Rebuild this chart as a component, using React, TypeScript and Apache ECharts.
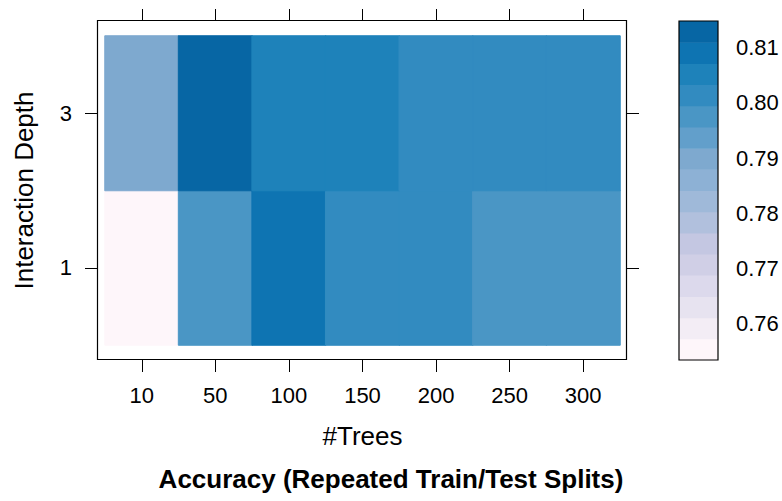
import React, { useEffect, useRef } from "react";
import * as echarts from "echarts";

const trees = ["10", "50", "100", "150", "200", "250", "300"];
const depths = ["1", "3"];
// accuracy for interaction depth 1 and 3, per #trees
const accDepth1 = [0.7533, 0.7974, 0.8092, 0.8012, 0.8009, 0.7971, 0.7976];
const accDepth3 = [0.7899, 0.8149, 0.8051, 0.8048, 0.8013, 0.8011, 0.8015];
const keyTicks = [0.76, 0.77, 0.78, 0.79, 0.8, 0.81];
// 16 colour levels, lowest to highest
const levelColors = [
  "#FEF6FA", "#F3EDF5", "#E7E3F0", "#DCD9EC", "#D0CFE6", "#C4C7E2",
  "#B1C0DD", "#9FB9D9", "#8DB1D5", "#7EA9CF", "#629FCB", "#4A96C5",
  "#328BC0", "#1E82BA", "#0E74B2", "#0766A4",
];

const FONT = "'Liberation Sans', Arial, Helvetica, sans-serif";

export default function App() {
  const ref = useRef<HTMLDivElement>(null);
  useEffect(() => {
    if (!ref.current) return;
    const chart = echarts.init(ref.current, undefined, { renderer: "svg" });
    const all = [...accDepth1, ...accDepth3];
    const zMin = Math.min(...all);
    const zMax = Math.max(...all);
    const n = levelColors.length;
    const step = (zMax - zMin) / n;
    const edges = levelColors.map((_, i) => zMin + i * step).concat([zMax]);
    const pieces = levelColors.map((c, i) => {
      const p: any = { color: c };
      if (i > 0) p.gt = edges[i];
      if (i < n - 1) p.lte = edges[i + 1];
      return p;
    });
    const levelOf = (v: number) => {
      for (let i = 0; i < n - 1; i++) if (v <= edges[i + 1]) return i;
      return n - 1;
    };
    const heat: any[] = [];
    const pushRow = (row: number[], y: number) =>
      row.forEach((v, i) =>
        heat.push({ value: [i, y, v], itemStyle: { borderColor: levelColors[levelOf(v)], borderWidth: 1 } })
      );
    pushRow(accDepth1, 0);
    pushRow(accDepth3, 1);
    const bands = levelColors.map((_, i) => [edges[i], edges[i + 1], 0.5]);

    const tickStyle = { show: true, length: 12, inside: false, lineStyle: { color: "#000", width: 1 } };

    chart.setOption({
      animation: false,
      textStyle: { fontFamily: FONT },
      title: {
        text: "Accuracy (Repeated Train/Test Splits)",
        left: "center",
        top: 461,
        textStyle: { fontSize: 26, fontWeight: "bold", color: "#000", fontFamily: FONT },
      },
      grid: [
        { left: 105, top: 36, width: 515, height: 309 },
        { left: 679, top: 21, width: 39, height: 339 },
      ],
      xAxis: [
        {
          type: "category", data: trees, gridIndex: 0, position: "bottom", offset: 15,
          axisLine: { show: false }, axisTick: { ...tickStyle, alignWithLabel: true },
          axisLabel: { fontSize: 22, color: "#000", margin: 24, fontFamily: FONT },
          splitLine: { show: false },
          name: "#Trees", nameLocation: "middle", nameGap: 63,
          nameTextStyle: { fontSize: 26, color: "#000", fontFamily: FONT },
        },
        {
          type: "category", data: trees, gridIndex: 0, position: "top", offset: 15,
          axisLine: { show: false }, axisTick: { ...tickStyle, alignWithLabel: true },
          axisLabel: { show: false }, splitLine: { show: false },
        },
        { type: "value", gridIndex: 1, min: 0, max: 1, show: false },
      ],
      yAxis: [
        {
          type: "category", data: depths, gridIndex: 0, position: "left", offset: 8,
          axisLine: { show: false }, axisTick: { ...tickStyle, alignWithLabel: true },
          axisLabel: { fontSize: 22, color: "#000", margin: 25, fontFamily: FONT },
          splitLine: { show: false },
          name: "Interaction Depth", nameLocation: "middle", nameGap: 60, nameRotate: 90,
          nameTextStyle: { fontSize: 26, color: "#000", fontFamily: FONT },
        },
        {
          type: "category", data: depths, gridIndex: 0, position: "right", offset: 7,
          axisLine: { show: false }, axisTick: { ...tickStyle, alignWithLabel: true },
          axisLabel: { show: false }, splitLine: { show: false },
        },
        {
          type: "value", gridIndex: 1, min: zMin, max: zMax, position: "right",
          axisLine: { show: false }, splitLine: { show: false },
          axisTick: { show: true, length: 7, inside: false, customValues: keyTicks, lineStyle: { color: "#000" } },
          axisLabel: {
            fontSize: 22, color: "#000", margin: 18, customValues: keyTicks, fontFamily: FONT,
            formatter: (v: number) => v.toFixed(2),
          },
        },
      ],
      visualMap: {
        type: "piecewise", show: false, seriesIndex: 0, dimension: 2, pieces,
      },
      series: [
        {
          type: "heatmap", xAxisIndex: 0, yAxisIndex: 0, data: heat,
          emphasis: { disabled: true },
        },
        {
          type: "custom", xAxisIndex: 2, yAxisIndex: 2, data: bands,
          encode: { x: 2, y: [0, 1] },
          renderItem: (params: any, api: any) => {
            const lo = api.value(0);
            const hi = api.value(1);
            const p1 = api.coord([0, hi]);
            const p2 = api.coord([1, lo]);
            return {
              type: "rect",
              shape: { x: p1[0], y: p1[1], width: p2[0] - p1[0], height: p2[1] - p1[1] + 0.5 },
              style: { fill: levelColors[params.dataIndex] },
            };
          },
        },
      ],
      graphic: [
        { type: "rect", z: 100, shape: { x: 97.5, y: 20.5, width: 529, height: 339 }, style: { fill: "none", stroke: "#000", lineWidth: 1.2 } },
        { type: "rect", z: 100, shape: { x: 679, y: 21, width: 39, height: 339 }, style: { fill: "none", stroke: "#000", lineWidth: 1.2 } },
      ],
    });
    return () => chart.dispose();
  }, []);
  return (
    <div
      ref={ref}
      style={{ position: "fixed", left: 0, top: 0, width: 782, height: 501, background: "#fff" }}
    />
  );
}
